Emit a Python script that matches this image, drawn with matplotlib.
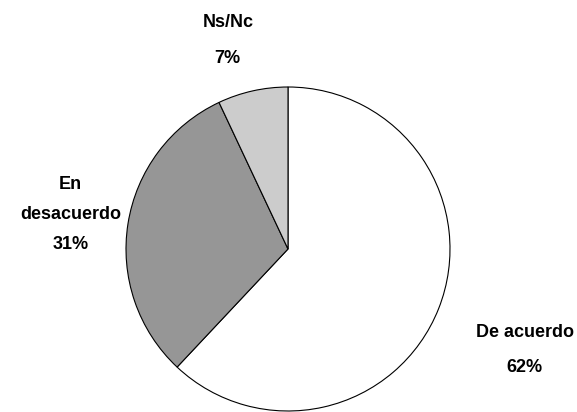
import numpy as np
import matplotlib.pyplot as plt

labels = ['De acuerdo', 'En\ndesacuerdo', 'Ns/Nc']
values = [62, 31, 7]
colors = ['#ffffff', '#969696', '#cccccc']
label_dist = [1.59, 1.36, 1.34]
label_shift = [-1.5, 0, 3.5]   # degrees
label_spacing = [2.4, 2.0, 2.4]

plt.rcParams['font.family'] = ['Liberation Sans', 'DejaVu Sans']

fig = plt.figure(figsize=(5.77, 4.12), dpi=100)
ax = fig.add_axes([0, 0, 1, 1])

wedges, _ = ax.pie(values, colors=colors, startangle=90, counterclock=False,
                   wedgeprops=dict(edgecolor='black', linewidth=0.8))

for w, lab, v, d, s, ls in zip(wedges, labels, values, label_dist,
                               label_shift, label_spacing):
    ang = np.deg2rad((w.theta1 + w.theta2) / 2 + s)
    ax.text(d * np.cos(ang), d * np.sin(ang), f'{lab}\n{v}%',
            ha='center', va='center', fontsize=13, fontweight='bold',
            linespacing=ls)

ax.set_aspect('auto')
ax.set_xlim(-288 / 162, 289 / 162)
ax.set_ylim(-163 / 162, 249 / 162)
ax.axis('off')

fig.savefig('out.png', dpi=100)
